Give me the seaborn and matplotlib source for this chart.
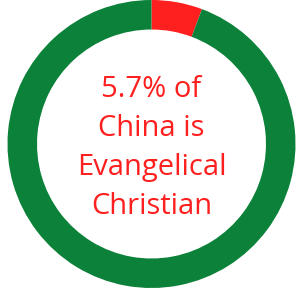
import matplotlib
matplotlib.use("Agg")
import matplotlib.pyplot as plt
import seaborn as sns

# Share of China's population
labels = ["Evangelical Christian", "Other"]
shares = [5.7, 94.3]
colors = ["#fe1f1f", "#0b8139"]
center_lines = ["5.7% of", "China is", "Evangelical", "Christian"]

sns.set_theme(style="white")
plt.rcParams["font.family"] = ["Open Sans", "DejaVu Sans"]

fig = plt.figure(figsize=(3.03, 2.88), dpi=100)
ax = fig.add_axes([0, 0, 1, 1])

ax.pie(shares, colors=colors, startangle=90, counterclock=False,
       radius=1.0, wedgeprops=dict(width=0.205, linewidth=0))

ax.text(0, -0.03, "\n".join(center_lines), ha="center", va="center",
        color="#fe1f1f", fontsize=21, linespacing=1.46)

ax.set_aspect("equal")
ax.set_xlim(-1.052, 1.052)
ax.set_ylim(-1.0, 1.0)
ax.axis("off")

fig.savefig("out.png", dpi=100)
